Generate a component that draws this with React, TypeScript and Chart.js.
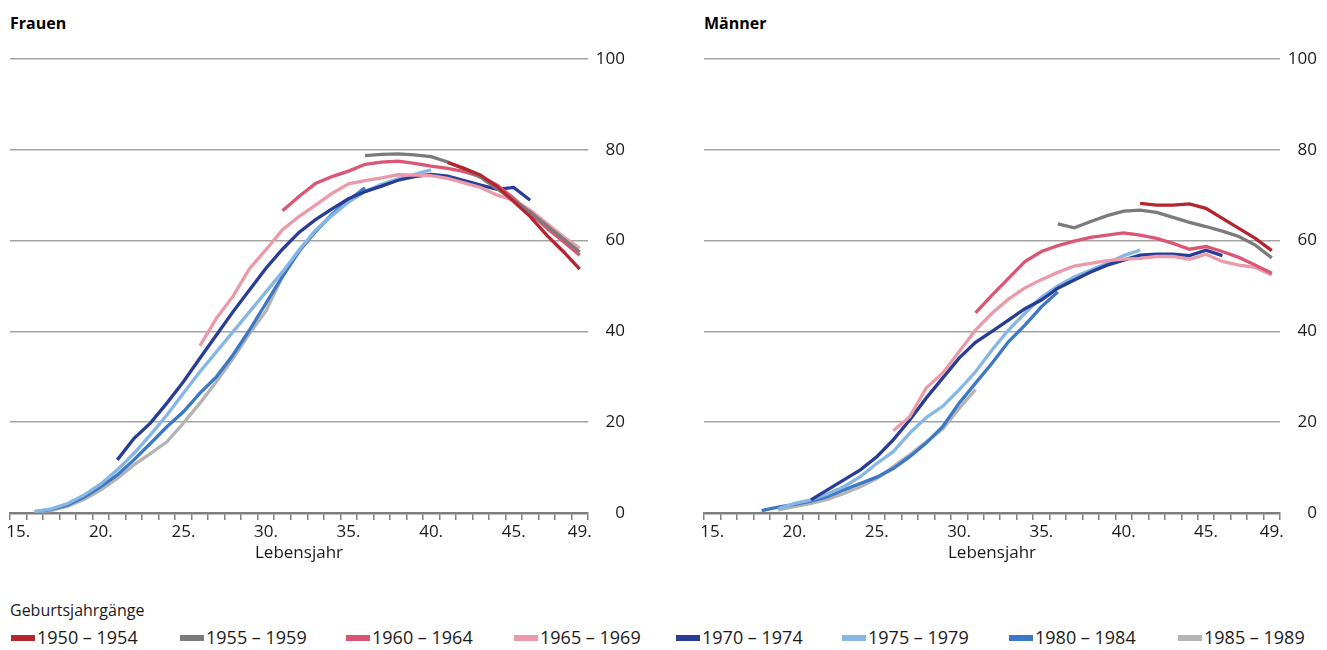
import React, { useEffect, useRef } from "react";
import { Chart, registerables } from "chart.js";

Chart.register(...registerables);

// ---------- data ----------
const AGES = [15, 16, 17, 18, 19, 20, 21, 22, 23, 24, 25, 26, 27, 28, 29, 30, 31, 32, 33, 34, 35, 36, 37, 38, 39, 40, 41, 42, 43, 44, 45, 46, 47, 48, 49];
const LABELED_AGES = [15, 20, 25, 30, 35, 40, 45, 49];
const Y_TICKS = [0, 20, 40, 60, 80, 100];

const COHORTS = ["1950 – 1954", "1955 – 1959", "1960 – 1964", "1965 – 1969", "1970 – 1974", "1975 – 1979", "1980 – 1984", "1985 – 1989"];
const COLORS = ["#b5252e", "#7b7b7b", "#db5674", "#eb9aa9", "#283d96", "#86b6e4", "#3b78c5", "#b4b4b4"];

// first age of each series
const F_START = [41, 36, 31, 26, 21, 16, 16, 16];
const M_START = [41, 36, 31, 26, 21, 19, 18, 19];

// Frauen
const F_1950 = [77.2, 75.9, 74.4, 71.9, 68.6, 65.3, 61.2, 57.6, 53.7];
const F_1955 = [78.7, 79.0, 79.1, 78.9, 78.5, 77.3, 75.8, 73.9, 71.4, 68.9, 66.3, 63.3, 60.4, 57.5];
const F_1960 = [66.6, 69.7, 72.6, 74.1, 75.3, 76.8, 77.3, 77.5, 77.0, 76.4, 75.9, 75.2, 74.1, 72.2, 69.3, 66.0, 62.8, 59.8, 56.8];
const F_1965 = [36.8, 42.9, 47.7, 53.8, 58.0, 62.4, 65.3, 67.8, 70.4, 72.5, 73.2, 73.8, 74.5, 74.4, 74.3, 73.7, 72.7, 71.7, 70.0, 68.9, 66.7, 63.8, 60.9, 58.3];
const F_1970 = [11.7, 16.4, 19.8, 24.2, 28.9, 34.1, 39.2, 44.3, 49.1, 53.9, 58.1, 61.8, 64.6, 67.0, 69.2, 70.8, 72.0, 73.3, 74.1, 74.6, 74.2, 73.2, 72.2, 71.3, 71.7, 68.9];
const F_1975 = [0.3, 0.9, 2.1, 4.0, 6.4, 9.5, 13.1, 17.2, 21.6, 26.4, 31.1, 35.5, 39.9, 44.3, 48.7, 53.1, 57.9, 62.3, 65.5, 68.5, 70.8, 72.4, 73.6, 74.6, 75.6];
const F_1980 = [0.3, 0.8, 1.8, 3.5, 5.8, 8.4, 11.7, 15.3, 19.0, 22.3, 26.4, 30.0, 34.8, 40.3, 46.2, 52.1, 57.6, 62.0, 65.8, 68.9, 71.6];
const F_1985 = [0.2, 0.6, 1.5, 3.0, 5.1, 7.6, 10.6, 13.1, 15.7, 19.8, 24.2, 28.9, 34.0, 39.5, 44.5, 52.1];

// Männer
const M_1950 = [68.2, 67.8, 67.8, 68.1, 67.1, 64.9, 62.7, 60.5, 57.8];
const M_1955 = [63.7, 62.8, 64.2, 65.5, 66.5, 66.7, 66.2, 65.1, 64.0, 63.1, 62.1, 60.9, 59.0, 56.2];
const M_1960 = [44.1, 48.0, 51.7, 55.4, 57.6, 58.9, 59.9, 60.7, 61.2, 61.7, 61.2, 60.5, 59.4, 58.1, 58.7, 57.6, 56.3, 54.6, 52.8];
const M_1965 = [18.1, 21.2, 27.5, 30.8, 35.5, 40.3, 44.0, 47.1, 49.6, 51.4, 53.0, 54.4, 55.0, 55.6, 55.9, 56.1, 56.5, 56.5, 55.9, 57.0, 55.4, 54.6, 54.1, 52.4];
const M_1970 = [2.9, 5.1, 7.3, 9.5, 12.4, 16.1, 20.5, 25.3, 29.7, 34.1, 37.6, 40.0, 42.5, 45.0, 46.9, 49.5, 51.3, 53.1, 54.6, 55.7, 56.8, 57.0, 57.0, 56.7, 57.9, 56.7];
const M_1975 = [0.9, 2.1, 2.9, 4.2, 5.8, 8.0, 10.9, 13.5, 17.6, 21.0, 23.5, 27.1, 31.1, 35.9, 40.3, 44.0, 47.5, 50.0, 52.0, 53.5, 55.0, 56.7, 57.9];
const M_1980 = [0.5, 1.3, 1.9, 2.6, 3.6, 5.1, 6.5, 7.9, 9.8, 12.4, 15.4, 19.0, 24.2, 28.6, 33.0, 37.7, 41.4, 45.4, 48.7];
const M_1985 = [0.7, 1.4, 2.1, 3.0, 4.3, 5.8, 7.6, 10.2, 12.8, 15.7, 18.5, 23.0, 27.2];

const F_SERIES = [F_1950, F_1955, F_1960, F_1965, F_1970, F_1975, F_1980, F_1985];
const M_SERIES = [M_1950, M_1955, M_1960, M_1965, M_1970, M_1975, M_1980, M_1985];

// ---------- styling ----------
const FONT = "'Open Sans', 'Noto Sans', sans-serif";
const TEXT = "#1a1a1a";

function toRow(start: number, values: number[]): (number | null)[] {
  return AGES.map((a) => {
    const i = a - start;
    return i >= 0 && i < values.length ? values[i] : null;
  });
}

function buildConfig(series: number[][], starts: number[]): any {
  return {
    type: "line",
    data: {
      labels: AGES.map(String),
      datasets: series.map((vals, k) => ({
        label: COHORTS[k],
        data: toRow(starts[k], vals),
        borderColor: COLORS[k],
        backgroundColor: COLORS[k],
        borderWidth: 3.3,
        pointRadius: 0,
        tension: 0,
        spanGaps: false,
        fill: false,
      })),
    },
    options: {
      animation: false,
      responsive: false,
      maintainAspectRatio: false,
      devicePixelRatio: 1,
      layout: { padding: { left: 10, top: 19, right: 0, bottom: 0 } },
      plugins: { legend: { display: false }, tooltip: { enabled: false }, title: { display: false } },
      scales: {
        x: {
          type: "category",
          offset: true,
          grid: {
            offset: true,
            drawOnChartArea: false,
            drawTicks: true,
            tickLength: 7,
            color: "#7f7f7f",
            lineWidth: 1.5,
          },
          border: { display: true, color: "#7f7f7f", width: 2.5 },
          ticks: {
            autoSkip: false,
            maxRotation: 0,
            minRotation: 0,
            padding: 2,
            color: TEXT,
            font: { family: FONT, size: 17 },
            callback: (_v: any, i: number) => (LABELED_AGES.includes(AGES[i]) ? AGES[i] + "." : ""),
          },
          title: {
            display: true,
            text: "Lebensjahr",
            color: TEXT,
            font: { family: FONT, size: 17 },
            padding: { top: 0, bottom: 0 },
          },
          afterFit: (s: any) => {
            s.height = 50;
            s.paddingLeft = 0;
            s.paddingRight = 0;
          },
        },
        y: {
          position: "right",
          min: 0,
          max: 100,
          afterBuildTicks: (s: any) => {
            s.ticks = Y_TICKS.map((v) => ({ value: v }));
          },
          ticks: {
            crossAlign: "far",
            padding: 6,
            color: TEXT,
            font: { family: FONT, size: 17 },
          },
          grid: { color: "#a3a3a3", lineWidth: 1.5, drawTicks: false },
          border: { display: false },
          afterFit: (s: any) => {
            s.width = 37;
          },
        },
      },
    },
  };
}

function Panel(props: { left: number; width: number; title: string; series: number[][]; starts: number[] }) {
  const ref = useRef<HTMLCanvasElement>(null);
  const H = 523;
  useEffect(() => {
    const chart = new Chart(ref.current as HTMLCanvasElement, buildConfig(props.series, props.starts));
    return () => chart.destroy();
  }, []);
  return (
    <>
      <div
        style={{
          position: "absolute",
          left: props.left + 10,
          top: 13,
          font: `bold 16px/20px ${FONT}`,
          color: "#000",
          whiteSpace: "nowrap",
        }}
      >
        {props.title}
      </div>
      <canvas
        ref={ref}
        width={props.width}
        height={H}
        style={{ position: "absolute", left: props.left, top: 40, width: props.width, height: H }}
      />
    </>
  );
}

const LEGEND_X = [11, 180, 346, 514, 676, 842, 1009, 1178];

export default function App() {
  return (
    <div style={{ position: "fixed", left: 0, top: 0, width: 1327, height: 650, background: "#fff", overflow: "hidden" }}>
      <Panel left={0} width={625} title="Frauen" series={F_SERIES} starts={F_START} />
      <Panel left={694} width={623} title="Männer" series={M_SERIES} starts={M_START} />
      <div
        style={{
          position: "absolute",
          left: 10,
          top: 600,
          font: `16px/20px ${FONT}`,
          color: TEXT,
          whiteSpace: "nowrap",
        }}
      >
        Geburtsjahrgänge
      </div>
      {COHORTS.map((c, i) => (
        <React.Fragment key={c}>
          <div
            style={{
              position: "absolute",
              left: LEGEND_X[i],
              top: 635,
              width: 24,
              height: 6,
              background: COLORS[i],
            }}
          />
          <div
            style={{
              position: "absolute",
              left: LEGEND_X[i] + 26,
              top: 627,
              font: `18px/20px ${FONT}`,
              color: TEXT,
              whiteSpace: "nowrap",
            }}
          >
            {c}
          </div>
        </React.Fragment>
      ))}
    </div>
  );
}
